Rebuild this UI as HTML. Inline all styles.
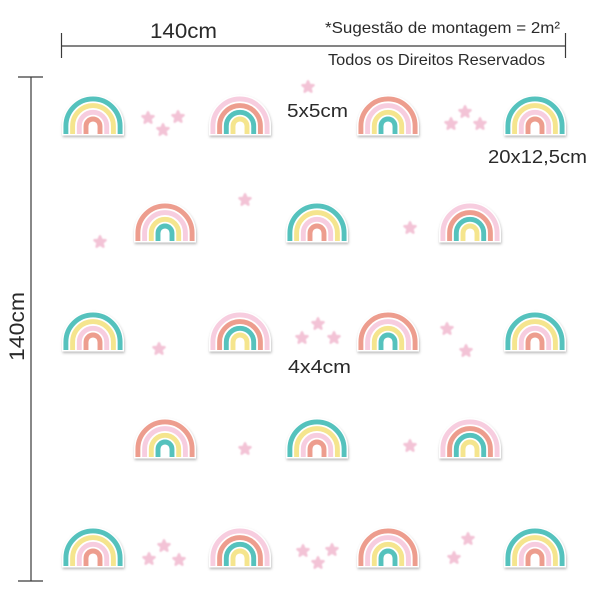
<!DOCTYPE html>
<html>
<head>
<meta charset="utf-8">
<style>
html,body{margin:0;padding:0;background:#fff;}
svg{display:block;}
text{font-family:"Liberation Sans",sans-serif;fill:#2a2a2a;}
</style>
</head>
<body>
<svg width="600" height="600" viewBox="0 0 600 600" xmlns="http://www.w3.org/2000/svg">
<defs>
  <filter id="sh" x="-20%" y="-20%" width="140%" height="150%">
    <feDropShadow dx="0.6" dy="1.6" stdDeviation="1.3" flood-color="#000" flood-opacity="0.28"/>
  </filter>
  <filter id="ss" x="-50%" y="-50%" width="200%" height="200%">
    <feGaussianBlur stdDeviation="0.8"/>
  </filter>
  <path id="base" d="M-31,9.5 L-31,0 A31,31 0 0 1 31,0 L31,9.5 Z" fill="#fff"/>
  <path id="b1" d="M-27.1,8 L-27.1,0 A27.1,27.1 0 0 1 27.1,0 L27.1,8" fill="none" stroke-width="4.9"/>
  <path id="b2" d="M-20.4,8 L-20.4,0 A20.4,20.4 0 0 1 20.4,0 L20.4,8" fill="none" stroke-width="4.9"/>
  <path id="b3" d="M-13.7,8 L-13.7,0 A13.7,13.7 0 0 1 13.7,0 L13.7,8" fill="none" stroke-width="4.9"/>
  <path id="b4" d="M-7,8 L-7,0 A7,7 0 0 1 7,0 L7,8" fill="none" stroke-width="4.9"/>
  <g id="rA">
    <use href="#base" filter="url(#sh)"/>
    <use href="#b1" stroke="#55c2bd"/>
    <use href="#b2" stroke="#f5e58e"/>
    <use href="#b3" stroke="#f7cddf"/>
    <use href="#b4" stroke="#ed9d8e"/>
  </g>
  <g id="rB">
    <use href="#base" filter="url(#sh)"/>
    <use href="#b1" stroke="#f7cddf"/>
    <use href="#b2" stroke="#ed9d8e"/>
    <use href="#b3" stroke="#55c2bd"/>
    <use href="#b4" stroke="#f5e58e"/>
  </g>
  <g id="rC">
    <use href="#base" filter="url(#sh)"/>
    <use href="#b1" stroke="#ed9d8e"/>
    <use href="#b2" stroke="#f7cddf"/>
    <use href="#b3" stroke="#f5e58e"/>
    <use href="#b4" stroke="#55c2bd"/>
  </g>
  <g id="st">
    <polygon points="0,-5.8 1.6,-2 5.6,-1.8 2.4,0.8 3.4,4.7 0,2.5 -3.4,4.7 -2.4,0.8 -5.6,-1.8 -1.6,-2" fill="#f3c3d6" stroke="#f3c3d6" stroke-width="2.4" stroke-linejoin="round" filter="url(#ss)"/>
  </g>
</defs>

<g stroke="#3a3a3a" stroke-width="1.2" fill="none">
  <line x1="61.5" y1="46" x2="565.5" y2="46"/>
  <line x1="61.5" y1="33" x2="61.5" y2="58"/>
  <line x1="565.5" y1="33" x2="565.5" y2="58"/>
  <line x1="31" y1="77" x2="31" y2="581"/>
  <line x1="18" y1="77" x2="43" y2="77"/>
  <line x1="18" y1="581" x2="43" y2="581"/>
</g>

<text x="150" y="38" font-size="21" textLength="67" lengthAdjust="spacingAndGlyphs">140cm</text>
<text x="325" y="33" font-size="16" textLength="235" lengthAdjust="spacingAndGlyphs">*Sugestão de montagem = 2m²</text>
<text x="328" y="65" font-size="16" textLength="217" lengthAdjust="spacingAndGlyphs">Todos os Direitos Reservados</text>
<text transform="translate(24,361) rotate(-90)" font-size="21" textLength="69" lengthAdjust="spacingAndGlyphs">140cm</text>
<text x="287" y="117" font-size="18" textLength="61" lengthAdjust="spacingAndGlyphs">5x5cm</text>
<text x="488" y="163" font-size="18" textLength="99" lengthAdjust="spacingAndGlyphs">20x12,5cm</text>
<text x="288" y="373" font-size="18" textLength="63" lengthAdjust="spacingAndGlyphs">4x4cm</text>

<use href="#st" x="148" y="118"/>
<use href="#st" x="163" y="130"/>
<use href="#st" x="178" y="117"/>
<use href="#st" x="308" y="87"/>
<use href="#st" x="451" y="124"/>
<use href="#st" x="465" y="112"/>
<use href="#st" x="480" y="124"/>

<use href="#st" x="245" y="200"/>
<use href="#st" x="100" y="242"/>
<use href="#st" x="410" y="228"/>

<use href="#st" x="159" y="349"/>
<use href="#st" x="318" y="324"/>
<use href="#st" x="302" y="338"/>
<use href="#st" x="334" y="338"/>
<use href="#st" x="447" y="329"/>
<use href="#st" x="466" y="351"/>

<use href="#st" x="245" y="449"/>
<use href="#st" x="410" y="446"/>

<use href="#st" x="149" y="559"/>
<use href="#st" x="164" y="546"/>
<use href="#st" x="179" y="560"/>
<use href="#st" x="303" y="551"/>
<use href="#st" x="332" y="550"/>
<use href="#st" x="318" y="563"/>
<use href="#st" x="468" y="539"/>
<use href="#st" x="454" y="558"/>

<use href="#rA" x="93" y="126"/>
<use href="#rB" x="240" y="126"/>
<use href="#rC" x="388" y="126"/>
<use href="#rA" x="535" y="126"/>
<use href="#rC" x="165" y="233"/>
<use href="#rA" x="317" y="233"/>
<use href="#rB" x="470" y="233"/>
<use href="#rA" x="93" y="342"/>
<use href="#rB" x="240" y="342"/>
<use href="#rC" x="388" y="342"/>
<use href="#rA" x="535" y="342"/>
<use href="#rC" x="165" y="449"/>
<use href="#rA" x="317" y="449"/>
<use href="#rB" x="470" y="449"/>
<use href="#rA" x="93" y="558"/>
<use href="#rB" x="240" y="558"/>
<use href="#rC" x="388" y="558"/>
<use href="#rA" x="535" y="558"/>
</svg>
</body>
</html>
